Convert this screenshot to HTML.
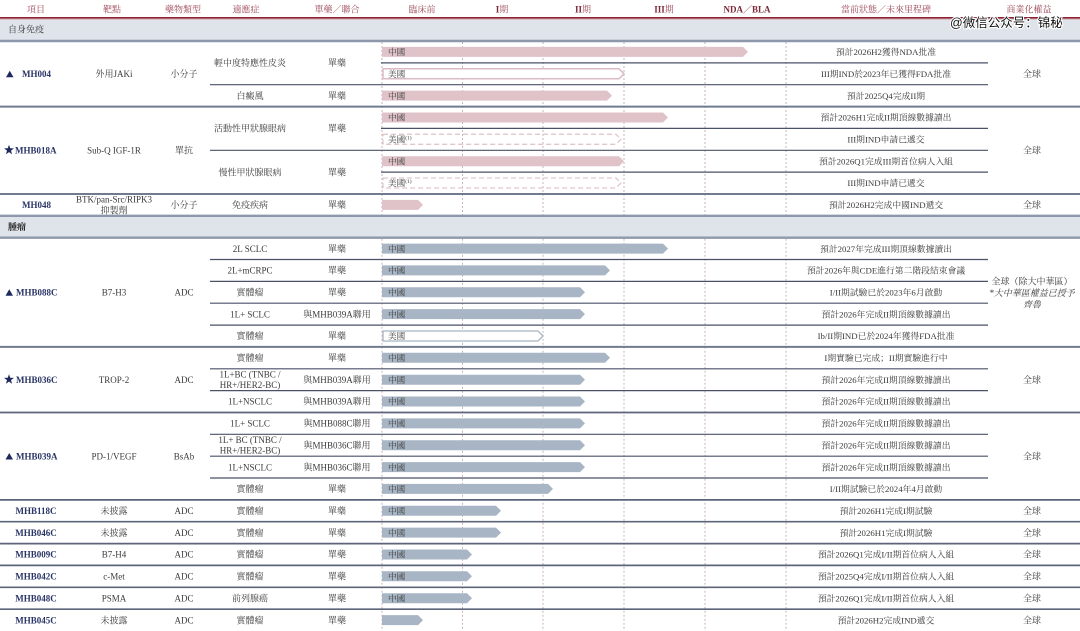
<!DOCTYPE html>
<html>
<head>
<meta charset="utf-8">
<style>
html,body{margin:0;padding:0;background:#fff;}
svg{display:block;}
text{font-family:"Liberation Serif","Noto Serif CJK SC","Noto Serif CJK TC",serif;}
.h{font-size:9px;fill:#9c4858;}
.hb{font-weight:bold;fill:#7d2838;}
.t{font-size:9px;fill:#3a3a3a;}
.s{font-size:8.8px;fill:#3a3a3a;}
.p{font-size:9px;fill:#2a3566;font-weight:bold;}
.lb{font-size:8.6px;fill:#3a3a3a;}
.c{text-anchor:middle;}
</style>
</head>
<body>
<svg width="1080" height="631" viewBox="0 0 1080 631" xmlns="http://www.w3.org/2000/svg">
<rect x="0" y="0" width="1080" height="631" fill="#ffffff"/>

<!-- header -->
<g class="c">
<text class="h c" x="36" y="12.7">項目</text>
<text class="h c" x="112" y="12.7">靶點</text>
<text class="h c" x="183" y="12.7">藥物類型</text>
<text class="h c" x="246" y="12.7">適應症</text>
<text class="h c" x="337" y="12.7">單藥／聯合</text>
<text class="h c" x="422" y="12.7">臨床前</text>
<text class="h c" x="502" y="12.7"><tspan class="hb">I</tspan>期</text>
<text class="h c" x="583" y="12.7"><tspan class="hb">II</tspan>期</text>
<text class="h c" x="664" y="12.7"><tspan class="hb">III</tspan>期</text>
<text class="h c hb" x="747" y="12.7">NDA／BLA</text>
<text class="h c" x="886" y="12.7">當前狀態／未來里程碑</text>
<text class="h c" x="1029" y="12.7">商業化權益</text>
</g>
<rect x="0" y="17" width="1080" height="1.5" fill="#8b2131"/>
<rect x="0" y="18.5" width="1080" height="1" fill="#cfa2ab"/>

<!-- section rows -->
<rect x="0" y="19.5" width="1080" height="21.5" fill="#dfe3ea"/>
<rect x="0" y="215.8" width="1080" height="21.9" fill="#dfe3ea"/>
<text class="t" x="8" y="32.4">自身免疫</text>
<text class="t" x="8" y="229.9" style="font-weight:bold;fill:#1a1a1a">腫瘤</text>

<!-- dashed verticals -->
<g stroke="#c9b4bc" stroke-width="1" stroke-dasharray="2 2">
<line x1="382" y1="42" x2="382" y2="215.8"/><line x1="382" y1="238.7" x2="382" y2="631"/>
<line x1="462.5" y1="42" x2="462.5" y2="215.8"/><line x1="462.5" y1="238.7" x2="462.5" y2="631"/>
<line x1="543" y1="42" x2="543" y2="215.8"/><line x1="543" y1="238.7" x2="543" y2="631"/>
<line x1="624" y1="42" x2="624" y2="215.8"/><line x1="624" y1="238.7" x2="624" y2="631"/>
<line x1="705" y1="42" x2="705" y2="215.8"/><line x1="705" y1="238.7" x2="705" y2="631"/>
<line x1="786" y1="42" x2="786" y2="215.8"/><line x1="786" y1="238.7" x2="786" y2="631"/>
</g>

<!-- horizontal lines -->
<g stroke="#8d98ac" stroke-width="2.4">
<line x1="0" y1="41" x2="1080" y2="41"/>
<line x1="0" y1="215.8" x2="1080" y2="215.8"/>
<line x1="0" y1="237.7" x2="1080" y2="237.7"/>
</g>
<g stroke="#717b90" stroke-width="2">
<line x1="0" y1="106.6" x2="1080" y2="106.6"/>
<line x1="0" y1="194" x2="1080" y2="194"/>
<line x1="0" y1="346.9" x2="1080" y2="346.9"/>
</g>
<g stroke="#5c657a" stroke-width="1.7">
<line x1="0" y1="412.5" x2="1080" y2="412.5"/>
<line x1="0" y1="499.9" x2="1080" y2="499.9"/>
<line x1="0" y1="521.7" x2="1080" y2="521.7"/>
<line x1="0" y1="543.6" x2="1080" y2="543.6"/>
<line x1="0" y1="565.4" x2="1080" y2="565.4"/>
<line x1="0" y1="587.3" x2="1080" y2="587.3"/>
<line x1="0" y1="609.2" x2="1080" y2="609.2"/>
</g>
<g stroke="#4a5268" stroke-width="1.2">
<line x1="381" y1="62.85" x2="988" y2="62.85"/>
<line x1="381" y1="128.4" x2="988" y2="128.4"/>
<line x1="381" y1="172.1" x2="988" y2="172.1"/>
<line x1="210" y1="84.7" x2="988" y2="84.7"/>
<line x1="210" y1="150.3" x2="988" y2="150.3"/>
<line x1="210" y1="259.5" x2="988" y2="259.5"/>
<line x1="210" y1="281.4" x2="988" y2="281.4"/>
<line x1="210" y1="303.2" x2="988" y2="303.2"/>
<line x1="210" y1="325.1" x2="988" y2="325.1"/>
<line x1="210" y1="368.8" x2="988" y2="368.8"/>
<line x1="210" y1="390.6" x2="988" y2="390.6"/>
<line x1="210" y1="434.3" x2="988" y2="434.3"/>
<line x1="210" y1="456.2" x2="988" y2="456.2"/>
<line x1="210" y1="478" x2="988" y2="478"/>
</g>

<!-- bars: pink -->
<g fill="#dfc3c9">
<polygon points="382,46.9 743,46.9 748,51.9 743,56.9 382,56.9"/>
<polygon points="382,90.6 607,90.6 612,95.6 607,100.6 382,100.6"/>
<polygon points="382,112.5 663,112.5 668,117.5 663,122.5 382,122.5"/>
<polygon points="382,156.2 619,156.2 624,161.2 619,166.2 382,166.2"/>
<polygon points="382,199.9 418,199.9 423,204.9 418,209.9 382,209.9"/>
</g>
<polygon points="383,68.8 619,68.8 624,73.8 619,78.8 383,78.8" fill="#fff" stroke="#dcbcc4" stroke-width="1.5"/>
<g fill="none" stroke="#e0c6cc" stroke-width="1.3" stroke-dasharray="5 3">
<polygon points="383,134.3 616,134.3 621,139.3 616,144.3 383,144.3"/>
<polygon points="383,178 616,178 621,183 616,188 383,188"/>
</g>

<!-- bars: grey-blue -->
<g fill="#a8b5c4">
<polygon points="382,243.6 663,243.6 668,248.6 663,253.6 382,253.6"/>
<polygon points="382,265.4 605,265.4 610,270.4 605,275.4 382,275.4"/>
<polygon points="382,287.3 580,287.3 585,292.3 580,297.3 382,297.3"/>
<polygon points="382,309.1 580,309.1 585,314.1 580,319.1 382,319.1"/>
<polygon points="382,352.8 605,352.8 610,357.8 605,362.8 382,362.8"/>
<polygon points="382,374.7 580,374.7 585,379.7 580,384.7 382,384.7"/>
<polygon points="382,396.5 580,396.5 585,401.5 580,406.5 382,406.5"/>
<polygon points="382,418.4 580,418.4 585,423.4 580,428.4 382,428.4"/>
<polygon points="382,440.2 580,440.2 585,445.2 580,450.2 382,450.2"/>
<polygon points="382,462.1 580,462.1 585,467.1 580,472.1 382,472.1"/>
<polygon points="382,483.9 548,483.9 553,488.9 548,493.9 382,493.9"/>
<polygon points="382,505.8 496,505.8 501,510.8 496,515.8 382,515.8"/>
<polygon points="382,527.6 496,527.6 501,532.6 496,537.6 382,537.6"/>
<polygon points="382,549.5 467,549.5 472,554.5 467,559.5 382,559.5"/>
<polygon points="382,571.3 467,571.3 472,576.3 467,581.3 382,581.3"/>
<polygon points="382,593.2 467,593.2 472,598.2 467,603.2 382,603.2"/>
<polygon points="382,615.1 418,615.1 423,620.1 418,625.1 382,625.1"/>
</g>
<polygon points="383,331 538,331 543,336 538,341 383,341" fill="#fff" stroke="#a8b5c4" stroke-width="1.3"/>

<!-- bar labels -->
<g class="lb">
<text class="lb" x="388" y="55.1">中國</text>
<text class="lb" x="388" y="77">美國</text>
<text class="lb" x="388" y="98.8">中國</text>
<text class="lb" x="388" y="120.7">中國</text>
<text class="lb" x="388" y="142.5">美國<tspan font-size="5.5" dy="-3">(1)</tspan></text>
<text class="lb" x="388" y="164.4">中國</text>
<text class="lb" x="388" y="186.2">美國<tspan font-size="5.5" dy="-3">(1)</tspan></text>
<text class="lb" x="388" y="251.8">中國</text>
<text class="lb" x="388" y="273.6">中國</text>
<text class="lb" x="388" y="295.5">中國</text>
<text class="lb" x="388" y="317.3">中國</text>
<text class="lb" x="388" y="339.2">美國</text>
<text class="lb" x="388" y="361">中國</text>
<text class="lb" x="388" y="382.9">中國</text>
<text class="lb" x="388" y="404.7">中國</text>
<text class="lb" x="388" y="426.6">中國</text>
<text class="lb" x="388" y="448.4">中國</text>
<text class="lb" x="388" y="470.3">中國</text>
<text class="lb" x="388" y="492.1">中國</text>
<text class="lb" x="388" y="514">中國</text>
<text class="lb" x="388" y="535.8">中國</text>
<text class="lb" x="388" y="557.7">中國</text>
<text class="lb" x="388" y="579.5">中國</text>
<text class="lb" x="388" y="601.4">中國</text>
</g>

<!-- icons -->
<g fill="#1f2a5c">
<polygon points="6,77.3 13.5,77.3 9.75,70.8"/>
<polygon points="5.5,295.8 13,295.8 9.25,289.3"/>
<polygon points="5.5,459.5 13,459.5 9.25,453"/>
<polygon points="9,144.8 10.23,148.3 13.95,148.39 11,150.65 12.06,154.21 9,152.1 5.94,154.21 7,150.65 4.05,148.39 7.77,148.3"/>
<polygon points="9,374.3 10.23,377.8 13.95,377.89 11,380.15 12.06,383.71 9,381.6 5.94,383.71 7,380.15 4.05,377.89 7.77,377.8"/>
</g>

<!-- project column -->
<text class="p" x="22" y="77">MH004</text>
<text class="p" x="15" y="153.4">MHB018A</text>
<text class="p c" x="36.5" y="208.1">MH048</text>
<text class="p" x="16" y="295.5">MHB088C</text>
<text class="p" x="16" y="382.9">MHB036C</text>
<text class="p" x="16" y="459.3">MHB039A</text>
<text class="p c" x="36" y="514">MHB118C</text>
<text class="p c" x="36" y="535.8">MHB046C</text>
<text class="p c" x="36" y="557.7">MHB009C</text>
<text class="p c" x="36" y="579.5">MHB042C</text>
<text class="p c" x="36" y="601.4">MHB048C</text>
<text class="p c" x="36" y="623.3">MHB045C</text>

<!-- target column -->
<g class="t c">
<text class="t c" x="114" y="77">外用JAKi</text>
<text class="t c" x="114" y="153.4">Sub-Q IGF-1R</text>
<text class="t c" x="114" y="202.5">BTK/pan-Src/RIPK3</text>
<text class="t c" x="114" y="213.3">抑製劑</text>
<text class="t c" x="114" y="295.5">B7-H3</text>
<text class="t c" x="114" y="382.9">TROP-2</text>
<text class="t c" x="114" y="459.3">PD-1/VEGF</text>
<text class="t c" x="114" y="514">未披露</text>
<text class="t c" x="114" y="535.8">未披露</text>
<text class="t c" x="114" y="557.7">B7-H4</text>
<text class="t c" x="114" y="579.5">c-Met</text>
<text class="t c" x="114" y="601.4">PSMA</text>
<text class="t c" x="114" y="623.3">未披露</text>
</g>

<!-- type column -->
<text class="t c" x="184" y="77">小分子</text>
<text class="t c" x="184" y="153.4">單抗</text>
<text class="t c" x="184" y="208.1">小分子</text>
<text class="t c" x="184" y="295.5">ADC</text>
<text class="t c" x="184" y="382.9">ADC</text>
<text class="t c" x="184" y="459.3">BsAb</text>
<text class="t c" x="184" y="514">ADC</text>
<text class="t c" x="184" y="535.8">ADC</text>
<text class="t c" x="184" y="557.7">ADC</text>
<text class="t c" x="184" y="579.5">ADC</text>
<text class="t c" x="184" y="601.4">ADC</text>
<text class="t c" x="184" y="623.3">ADC</text>

<!-- indication column -->
<text class="t c" x="250" y="66">輕中度特應性皮炎</text>
<text class="t c" x="250" y="98.8">白癜風</text>
<text class="t c" x="250" y="131.6">活動性甲狀腺眼病</text>
<text class="t c" x="250" y="175.3">慢性甲狀腺眼病</text>
<text class="t c" x="250" y="208.1">免疫疾病</text>
<text class="t c" x="250" y="251.8">2L SCLC</text>
<text class="t c" x="250" y="273.6">2L+mCRPC</text>
<text class="t c" x="250" y="295.5">實體瘤</text>
<text class="t c" x="250" y="317.3">1L+ SCLC</text>
<text class="t c" x="250" y="339.2">實體瘤</text>
<text class="t c" x="250" y="361">實體瘤</text>
<text class="t c" x="250" y="377.4">1L+BC (TNBC /</text>
<text class="t c" x="250" y="388.2">HR+/HER2-BC)</text>
<text class="t c" x="250" y="404.7">1L+NSCLC</text>
<text class="t c" x="250" y="426.6">1L+ SCLC</text>
<text class="t c" x="250" y="442.9">1L+ BC (TNBC /</text>
<text class="t c" x="250" y="453.7">HR+/HER2-BC)</text>
<text class="t c" x="250" y="470.3">1L+NSCLC</text>
<text class="t c" x="250" y="492.1">實體瘤</text>
<text class="t c" x="250" y="514">實體瘤</text>
<text class="t c" x="250" y="535.8">實體瘤</text>
<text class="t c" x="250" y="557.7">實體瘤</text>
<text class="t c" x="250" y="579.5">實體瘤</text>
<text class="t c" x="250" y="601.4">前列腺癌</text>
<text class="t c" x="250" y="623.3">實體瘤</text>

<!-- mono/combo column -->
<text class="t c" x="337" y="66">單藥</text>
<text class="t c" x="337" y="98.8">單藥</text>
<text class="t c" x="337" y="131.6">單藥</text>
<text class="t c" x="337" y="175.3">單藥</text>
<text class="t c" x="337" y="208.1">單藥</text>
<text class="t c" x="337" y="251.8">單藥</text>
<text class="t c" x="337" y="273.6">單藥</text>
<text class="t c" x="337" y="295.5">單藥</text>
<text class="t c" x="337" y="317.3">與MHB039A聯用</text>
<text class="t c" x="337" y="339.2">單藥</text>
<text class="t c" x="337" y="361">單藥</text>
<text class="t c" x="337" y="382.9">與MHB039A聯用</text>
<text class="t c" x="337" y="404.7">與MHB039A聯用</text>
<text class="t c" x="337" y="426.6">與MHB088C聯用</text>
<text class="t c" x="337" y="448.4">與MHB036C聯用</text>
<text class="t c" x="337" y="470.3">與MHB036C聯用</text>
<text class="t c" x="337" y="492.1">單藥</text>
<text class="t c" x="337" y="514">單藥</text>
<text class="t c" x="337" y="535.8">單藥</text>
<text class="t c" x="337" y="557.7">單藥</text>
<text class="t c" x="337" y="579.5">單藥</text>
<text class="t c" x="337" y="601.4">單藥</text>
<text class="t c" x="337" y="623.3">單藥</text>

<!-- status column -->
<g>
<text class="s c" x="886" y="55.1">預計2026H2獲得NDA批准</text>
<text class="s c" x="886" y="77">III期IND於2023年已獲得FDA批准</text>
<text class="s c" x="886" y="98.8">預計2025Q4完成II期</text>
<text class="s c" x="886" y="120.7">預計2026H1完成II期頂線數據讀出</text>
<text class="s c" x="886" y="142.5">III期IND申請已遞交</text>
<text class="s c" x="886" y="164.4">預計2026Q1完成III期首位病人入組</text>
<text class="s c" x="886" y="186.2">III期IND申請已遞交</text>
<text class="s c" x="886" y="208.1">預計2026H2完成中國IND遞交</text>
<text class="s c" x="886" y="251.8">預計2027年完成III期頂線數據讀出</text>
<text class="s c" x="886" y="273.6">預計2026年與CDE進行第二階段結束會議</text>
<text class="s c" x="886" y="295.5">I/II期試驗已於2023年6月啟動</text>
<text class="s c" x="886" y="317.3">預計2026年完成II期頂線數據讀出</text>
<text class="s c" x="886" y="339.2">Ib/II期IND已於2024年獲得FDA批准</text>
<text class="s c" x="886" y="361">I期實驗已完成；II期實驗進行中</text>
<text class="s c" x="886" y="382.9">預計2026年完成II期頂線數據讀出</text>
<text class="s c" x="886" y="404.7">預計2026年完成II期頂線數據讀出</text>
<text class="s c" x="886" y="426.6">預計2026年完成II期頂線數據讀出</text>
<text class="s c" x="886" y="448.4">預計2026年完成II期頂線數據讀出</text>
<text class="s c" x="886" y="470.3">預計2026年完成II期頂線數據讀出</text>
<text class="s c" x="886" y="492.1">I/II期試驗已於2024年4月啟動</text>
<text class="s c" x="886" y="514">預計2026H1完成I期試驗</text>
<text class="s c" x="886" y="535.8">預計2026H1完成I期試驗</text>
<text class="s c" x="886" y="557.7">預計2026Q1完成I/II期首位病人入組</text>
<text class="s c" x="886" y="579.5">預計2025Q4完成I/II期首位病人入組</text>
<text class="s c" x="886" y="601.4">預計2026Q1完成I/II期首位病人入組</text>
<text class="s c" x="886" y="623.3">預計2026H2完成IND遞交</text>
</g>

<!-- commercial column -->
<text class="t c" x="1032" y="77">全球</text>
<text class="t c" x="1032" y="153.4">全球</text>
<text class="t c" x="1032" y="208.1">全球</text>
<text class="t c" x="1032" y="284.3">全球（除大中華區）</text>
<text class="t c" x="1032" y="296" font-style="italic">*大中華區權益已授予</text>
<text class="t c" x="1032" y="307.6" font-style="italic">齊魯</text>
<text class="t c" x="1032" y="382.9">全球</text>
<text class="t c" x="1032" y="459.3">全球</text>
<text class="t c" x="1032" y="514">全球</text>
<text class="t c" x="1032" y="535.8">全球</text>
<text class="t c" x="1032" y="557.7">全球</text>
<text class="t c" x="1032" y="579.5">全球</text>
<text class="t c" x="1032" y="601.4">全球</text>
<text class="t c" x="1032" y="623.3">全球</text>

<!-- watermark -->
<text x="950" y="27" font-size="12.5" fill="#111" stroke="#ffffff" stroke-width="2.2" paint-order="stroke" style="font-family:'Liberation Sans','Noto Sans CJK SC',sans-serif;">@微信公众号：锦秘</text>
</svg>
</body>
</html>
